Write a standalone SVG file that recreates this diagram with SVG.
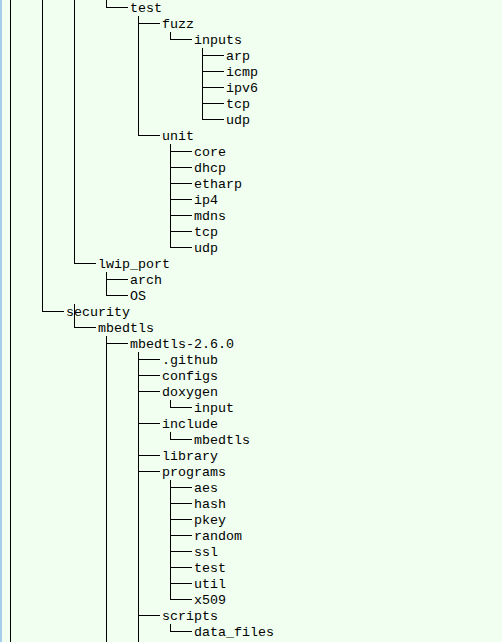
<svg xmlns="http://www.w3.org/2000/svg" width="502" height="642" viewBox="0 0 502 642">
  <style>
    .bg { fill: #f0fff0; }
    .edge { fill: #a8cdec; }
    .wire { stroke: #000; stroke-width: 1; fill: none; shape-rendering: crispEdges; }
    text { font-family: "Liberation Mono", "DejaVu Sans Mono", monospace; font-size: 13.33px; fill: #000; }
  </style>
  <rect class="bg" x="0" y="0" width="502" height="642"/>
  <rect class="edge" x="0" y="0" width="2" height="642"/>

  <!-- tree guide lines: verticals, then branch stubs -->
  <g id="connectors" class="wire">
    <path d="M10.5 0V642"/>
    <path d="M42.5 0V311.5"/>
    <path d="M74.5 0V263.5M74.5 304V327.5"/>
    <path d="M106.5 0V7.5M106.5 272V295.5M106.5 336V642"/>
    <path d="M138.5 16V135.5M138.5 352V642"/>
    <path d="M170.5 32V39.5M170.5 144V247.5M170.5 400V407.5M170.5 432V439.5M170.5 480V599.5M170.5 624V631.5"/>
    <path d="M202.5 48V119.5"/>
    <!-- branch stubs -->
    <path d="M106 7.5H128"/>
    <path d="M138 23.5H160"/>
    <path d="M170 39.5H192"/>
    <path d="M202 55.5H224M202 71.5H224M202 87.5H224M202 103.5H224M202 119.5H224"/>
    <path d="M138 135.5H160"/>
    <path d="M170 151.5H192M170 167.5H192M170 183.5H192M170 199.5H192M170 215.5H192M170 231.5H192M170 247.5H192"/>
    <path d="M74 263.5H96"/>
    <path d="M106 279.5H128M106 295.5H128"/>
    <path d="M42 311.5H64"/>
    <path d="M74 327.5H96"/>
    <path d="M106 343.5H128"/>
    <path d="M138 359.5H160M138 375.5H160M138 391.5H160"/>
    <path d="M170 407.5H192"/>
    <path d="M138 423.5H160"/>
    <path d="M170 439.5H192"/>
    <path d="M138 455.5H160M138 471.5H160"/>
    <path d="M170 487.5H192M170 503.5H192M170 519.5H192M170 535.5H192M170 551.5H192M170 567.5H192M170 583.5H192M170 599.5H192"/>
    <path d="M138 615.5H160"/>
    <path d="M170 631.5H192"/>
  </g>

  <g id="lwip-test"><text x="130" y="12">test</text></g>
  <g id="test-fuzz"><text x="162" y="28">fuzz</text></g>
  <g id="fuzz-inputs"><text x="194" y="44">inputs</text></g>
  <g id="inputs-arp"><text x="226" y="60">arp</text></g>
  <g id="inputs-icmp"><text x="226" y="76">icmp</text></g>
  <g id="inputs-ipv6"><text x="226" y="92">ipv6</text></g>
  <g id="inputs-tcp"><text x="226" y="108">tcp</text></g>
  <g id="inputs-udp"><text x="226" y="124">udp</text></g>
  <g id="test-unit"><text x="162" y="140">unit</text></g>
  <g id="unit-core"><text x="194" y="156">core</text></g>
  <g id="unit-dhcp"><text x="194" y="172">dhcp</text></g>
  <g id="unit-etharp"><text x="194" y="188">etharp</text></g>
  <g id="unit-ip4"><text x="194" y="204">ip4</text></g>
  <g id="unit-mdns"><text x="194" y="220">mdns</text></g>
  <g id="unit-tcp"><text x="194" y="236">tcp</text></g>
  <g id="unit-udp"><text x="194" y="252">udp</text></g>
  <g id="lwip-port"><text x="98" y="268">lwip_port</text></g>
  <g id="port-arch"><text x="130" y="284">arch</text></g>
  <g id="port-os"><text x="130" y="300">OS</text></g>
  <g id="security"><text x="66" y="316">security</text></g>
  <g id="security-mbedtls"><text x="98" y="332">mbedtls</text></g>
  <g id="mbedtls-260"><text x="130" y="348">mbedtls-2.6.0</text></g>
  <g id="m-github"><text x="162" y="364">.github</text></g>
  <g id="m-configs"><text x="162" y="380">configs</text></g>
  <g id="m-doxygen"><text x="162" y="396">doxygen</text></g>
  <g id="doxygen-input"><text x="194" y="412">input</text></g>
  <g id="m-include"><text x="162" y="428">include</text></g>
  <g id="include-mbedtls"><text x="194" y="444">mbedtls</text></g>
  <g id="m-library"><text x="162" y="460">library</text></g>
  <g id="m-programs"><text x="162" y="476">programs</text></g>
  <g id="programs-aes"><text x="194" y="492">aes</text></g>
  <g id="programs-hash"><text x="194" y="508">hash</text></g>
  <g id="programs-pkey"><text x="194" y="524">pkey</text></g>
  <g id="programs-random"><text x="194" y="540">random</text></g>
  <g id="programs-ssl"><text x="194" y="556">ssl</text></g>
  <g id="programs-test"><text x="194" y="572">test</text></g>
  <g id="programs-util"><text x="194" y="588">util</text></g>
  <g id="programs-x509"><text x="194" y="604">x509</text></g>
  <g id="m-scripts"><text x="162" y="620">scripts</text></g>
  <g id="scripts-data-files"><text x="194" y="636">data_files</text></g>
</svg>
